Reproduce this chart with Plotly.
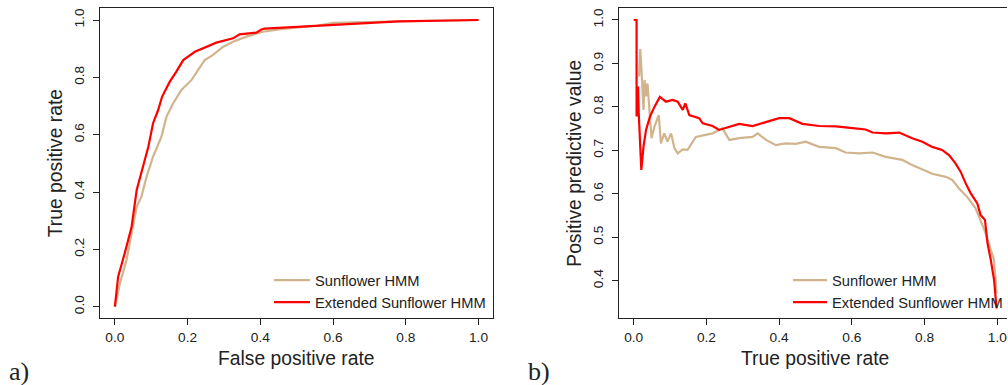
import plotly.graph_objects as go

# ---------------- data ----------------
# Panel a: ROC curves (False positive rate vs True positive rate)
roc_sun_fpr = [0.0, 0.014, 0.032, 0.046, 0.060, 0.073, 0.087, 0.105, 0.128, 0.142, 0.160,
               0.183, 0.211, 0.229, 0.247, 0.270, 0.298, 0.325, 0.362, 0.407, 0.462,
               0.555, 0.600, 0.690, 0.830, 1.0]
roc_sun_tpr = [0.0, 0.082, 0.163, 0.256, 0.349, 0.384, 0.453, 0.523, 0.593, 0.663, 0.709,
               0.756, 0.791, 0.826, 0.860, 0.878, 0.907, 0.924, 0.942, 0.959, 0.969,
               0.980, 0.990, 0.993, 0.997, 1.0]
roc_ext_fpr = [0.0, 0.009, 0.027, 0.046, 0.060, 0.078, 0.092, 0.105, 0.119, 0.130, 0.151,
               0.169, 0.188, 0.220, 0.252, 0.279, 0.325, 0.343, 0.389, 0.403, 0.412,
               0.508, 0.600, 0.690, 0.780, 1.0]
roc_ext_tpr = [0.0, 0.105, 0.186, 0.279, 0.407, 0.488, 0.558, 0.640, 0.686, 0.733, 0.785,
               0.820, 0.860, 0.889, 0.907, 0.921, 0.936, 0.950, 0.956, 0.967, 0.970,
               0.977, 0.983, 0.990, 0.995, 1.0]

# Panel b: True positive rate vs Positive predictive value
ppv_sun_tpr = [0.015, 0.018, 0.021, 0.027, 0.030, 0.034, 0.038, 0.043, 0.049, 0.057, 0.069,
               0.075, 0.084, 0.093, 0.103, 0.112, 0.121, 0.135, 0.148, 0.171, 0.194,
               0.217, 0.235, 0.244, 0.263, 0.290, 0.327, 0.341, 0.364, 0.391, 0.418,
               0.446, 0.473, 0.510, 0.556, 0.583, 0.620, 0.657, 0.693, 0.739, 0.766,
               0.794, 0.821, 0.858, 0.876, 0.894, 0.917, 0.940, 0.954, 0.968, 0.982,
               0.991, 0.998]
ppv_sun_ppv = [0.870, 0.933, 0.893, 0.793, 0.862, 0.824, 0.854, 0.793, 0.728, 0.754, 0.781,
               0.716, 0.739, 0.720, 0.739, 0.705, 0.693, 0.702, 0.701, 0.731, 0.735,
               0.739, 0.747, 0.751, 0.724, 0.728, 0.731, 0.739, 0.724, 0.712, 0.716,
               0.715, 0.720, 0.708, 0.705, 0.695, 0.693, 0.695, 0.685, 0.678, 0.666,
               0.655, 0.646, 0.639, 0.632, 0.613, 0.593, 0.567, 0.540, 0.509, 0.471,
               0.448, 0.371]
ppv_ext_tpr = [0.0, 0.008, 0.008, 0.012, 0.014, 0.017, 0.021, 0.027, 0.034, 0.045, 0.057,
               0.072, 0.089, 0.107, 0.121, 0.135, 0.142, 0.153, 0.180, 0.190, 0.217,
               0.235, 0.263, 0.290, 0.327, 0.364, 0.400, 0.428, 0.464, 0.510, 0.556,
               0.602, 0.638, 0.657, 0.693, 0.730, 0.766, 0.794, 0.821, 0.848, 0.867,
               0.885, 0.899, 0.913, 0.927, 0.945, 0.954, 0.966, 0.973, 0.982, 0.991,
               0.998]
ppv_ext_ppv = [1.0, 1.0, 0.778, 0.847, 0.785, 0.724, 0.655, 0.708, 0.747, 0.778, 0.800,
               0.823, 0.812, 0.816, 0.812, 0.793, 0.808, 0.781, 0.774, 0.762, 0.756,
               0.747, 0.755, 0.761, 0.756, 0.766, 0.774, 0.774, 0.761, 0.756, 0.755,
               0.751, 0.748, 0.741, 0.739, 0.741, 0.728, 0.720, 0.708, 0.701, 0.689,
               0.670, 0.651, 0.624, 0.601, 0.578, 0.551, 0.540, 0.486, 0.448, 0.402,
               0.336]

series_names = ["Sunflower HMM", "Extended Sunflower HMM"]
series_colors = ["#D2B48C", "#FF0000"]

xticks_a = [0.0, 0.2, 0.4, 0.6, 0.8, 1.0]
yticks_a = [0.0, 0.2, 0.4, 0.6, 0.8, 1.0]
xticks_b = [0.0, 0.2, 0.4, 0.6, 0.8, 1.0]
yticks_b = [0.4, 0.5, 0.6, 0.7, 0.8, 0.9, 1.0]

# ---------------- figure ----------------
W, H = 1008, 385
FONT = "Liberation Sans, Arial, Helvetica, sans-serif"
LW = 2.2

fig = go.Figure()
fig.add_trace(go.Scatter(x=roc_sun_fpr, y=roc_sun_tpr, mode="lines", name=series_names[0],
                         line=dict(color=series_colors[0], width=LW), xaxis="x", yaxis="y",
                         legend="legend"))
fig.add_trace(go.Scatter(x=roc_ext_fpr, y=roc_ext_tpr, mode="lines", name=series_names[1],
                         line=dict(color=series_colors[1], width=LW), xaxis="x", yaxis="y",
                         legend="legend"))
fig.add_trace(go.Scatter(x=ppv_sun_tpr, y=ppv_sun_ppv, mode="lines", name=series_names[0],
                         line=dict(color=series_colors[0], width=LW), xaxis="x2", yaxis="y2",
                         legend="legend2"))
fig.add_trace(go.Scatter(x=ppv_ext_tpr, y=ppv_ext_ppv, mode="lines", name=series_names[1],
                         line=dict(color=series_colors[1], width=LW), xaxis="x2", yaxis="y2",
                         legend="legend2"))

def px_x(p):
    return p / W

def px_y(p):
    return 1 - p / H

box_top, box_bot = 8.3, 318.3
ydom = [px_y(box_bot), px_y(box_top)]

axis_common = dict(showgrid=False, zeroline=False, showline=True, linecolor="#222",
                   linewidth=1, ticks="outside", ticklen=6, tickcolor="#222", tickwidth=1,
                   tickfont=dict(family=FONT, size=13.7, color="#222"), tickformat=".1f")

fig.update_layout(
    width=W, height=H, margin=dict(l=0, r=0, t=0, b=0),
    paper_bgcolor="white", plot_bgcolor="white", showlegend=True,
    xaxis=dict(domain=[px_x(100), px_x(493)], range=[-0.0412, 1.0385], anchor="y",
               tickvals=xticks_a, mirror=True, **axis_common),
    yaxis=dict(domain=ydom, range=[-0.0405, 1.0408], anchor="x",
               tickvals=yticks_a, mirror=True, tickangle=-90, ticklabelstandoff=3,
               **axis_common),
    xaxis2=dict(domain=[px_x(619.3), 1.0], range=[-0.0412, 1.0266], anchor="y2",
                tickvals=xticks_b, mirror=True, **axis_common),
    yaxis2=dict(domain=ydom, range=[0.3135, 1.0269], anchor="x2",
                tickvals=yticks_b, mirror=False, tickangle=-90, ticklabelstandoff=3,
                **axis_common),
    legend=dict(x=px_x(269), y=px_y(264), xanchor="left", yanchor="top",
                bgcolor="rgba(0,0,0,0)", borderwidth=0, itemwidth=36, tracegroupgap=0,
                font=dict(family=FONT, size=14.7, color="#222")),
    legend2=dict(x=px_x(789), y=px_y(264), xanchor="left", yanchor="top",
                 bgcolor="rgba(0,0,0,0)", borderwidth=0, itemwidth=34, tracegroupgap=0,
                 font=dict(family=FONT, size=14.7, color="#222")),
)

title_font = dict(family=FONT, size=19.3, color="#222")
ann = [
    dict(text="False positive rate", x=px_x(296.5), y=px_y(358), xref="paper", yref="paper",
         xanchor="center", yanchor="middle", showarrow=False, font=title_font),
    dict(text="True positive rate", x=px_x(816), y=px_y(358), xref="paper", yref="paper",
         xanchor="center", yanchor="middle", showarrow=False, font=title_font),
    dict(text="True positive rate", x=px_x(55), y=px_y(163.3), xref="paper", yref="paper",
         xanchor="center", yanchor="middle", showarrow=False, font=title_font, textangle=-90),
    dict(text="Positive predictive value", x=px_x(575), y=px_y(163.3), xref="paper",
         yref="paper", xanchor="center", yanchor="middle", showarrow=False, font=title_font,
         textangle=-90),
    dict(text="a)", x=px_x(7), y=px_y(371), xref="paper", yref="paper", xanchor="left",
         yanchor="middle", showarrow=False,
         font=dict(family="Liberation Serif, DejaVu Serif, serif", size=26, color="#222")),
    dict(text="b)", x=px_x(527), y=px_y(371), xref="paper", yref="paper", xanchor="left",
         yanchor="middle", showarrow=False,
         font=dict(family="Liberation Serif, DejaVu Serif, serif", size=26, color="#222")),
]
fig.update_layout(annotations=ann)

fig.write_html("out.html", config={"displayModeBar": False},
               post_script="document.body.style.margin='0';document.body.style.overflow='hidden';")
